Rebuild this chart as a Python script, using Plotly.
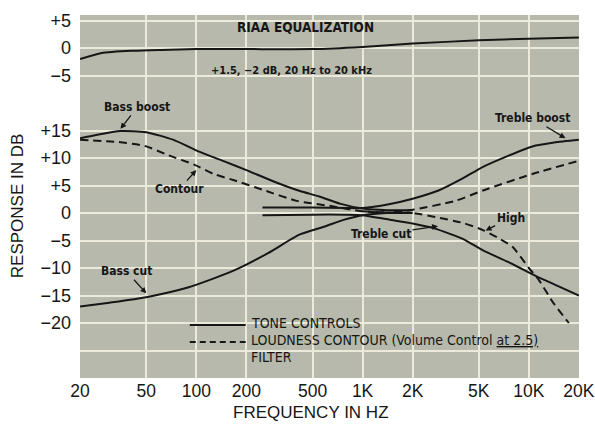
import math
import plotly.graph_objects as go

# ---------------- data ----------------
x_tick_vals = [20, 50, 100, 200, 500, 1000, 2000, 5000, 10000, 20000]
x_tick_text = ["20", "50", "100", "200", "500", "1K", "2K", "5K", "10K", "20K"]

# RIAA equalization (upper section, dB)
riaa_freq = [20, 27, 42, 61, 100, 200, 500, 1000, 2000, 5000, 10000, 20000]
riaa_db = [-2.0, -0.9, -0.5, -0.35, -0.2, -0.2, -0.2, 0.2, 0.8, 1.4, 1.7, 1.9]

# Tone controls
bass_boost_freq = [20, 25, 35, 50, 73, 105, 150, 200, 300, 420, 550, 730, 1000, 1400, 2000]
bass_boost_db = [13.6, 14.2, 14.9, 14.7, 13.3, 11.1, 9.3, 7.8, 5.6, 4.0, 3.0, 1.7, 0.8, 0.5, 0.5]

bass_cut_freq = [20, 30, 50, 90, 130, 170, 270, 420, 600, 760, 1000, 1400, 2000]
bass_cut_db = [-17.0, -16.3, -15.3, -13.5, -11.8, -10.4, -7.3, -3.9, -2.4, -1.3, -0.4, 0.0, 0.0]

treble_boost_freq = [250, 500, 800, 1000, 1440, 2000, 2860, 4000, 5300, 7500, 10500, 14200, 20000]
treble_boost_db = [1.0, 1.0, 0.9, 0.9, 1.6, 2.6, 4.1, 6.3, 8.4, 10.4, 12.1, 12.8, 13.3]

treble_cut_freq = [250, 500, 800, 1000, 1440, 2000, 2700, 4000, 5300, 7500, 10900, 15000, 20000]
treble_cut_db = [-0.4, -0.3, -0.3, -0.4, -1.2, -1.9, -2.8, -4.7, -6.8, -8.9, -11.4, -13.3, -15.0]

# Loudness contour (volume control at 2.5)
contour_freq = [20, 34, 49, 68, 97, 127, 167, 252, 402, 632, 1000, 1440, 2000, 3600, 5300, 10500, 20000]
contour_db = [13.3, 12.9, 12.2, 10.5, 8.8, 7.1, 6.0, 4.2, 2.2, 1.3, 0.3, 0.1, 0.6, 2.2, 4.1, 7.1, 9.5]

# High filter
filter_freq = [1000, 1440, 2000, 2800, 4000, 5300, 6500, 8000, 10000, 11500, 14000, 17400]
filter_db = [0.3, 0.1, 0.0, -0.8, -1.8, -3.1, -4.5, -6.2, -10.0, -12.2, -16.3, -20.0]

# y labels (lower section true dB; upper section drawn 30 dB higher)
RIAA_OFFSET = 30
y_tick_vals = [35, 30, 25, 15, 10, 5, 0, -5, -10, -15, -20, -25]
y_tick_text = ["+5", "0", "\u22125", "+15", "+10", "+5", "0", "\u22125", "\u221210", "\u221215", "\u221220", ""]

# ---------------- figure ----------------
INK = "#161616"
GRID = "#eceadb"
BG = "#b7b9ac"
SANS = "Liberation Sans, Arial, sans-serif"
NARROW = "DejaVu Sans Condensed, Liberation Sans Narrow, sans-serif"

fig = go.Figure()


def add_curve(freq, vals, dash, offset=0):
    fig.add_trace(go.Scatter(
        x=freq, y=[v + offset for v in vals], mode="lines",
        line=dict(color=INK, width=2, dash=dash, shape="spline", smoothing=0.6),
        showlegend=False, hoverinfo="skip"))


add_curve(riaa_freq, riaa_db, "solid", RIAA_OFFSET)
add_curve(bass_boost_freq, bass_boost_db, "solid")
add_curve(bass_cut_freq, bass_cut_db, "solid")
add_curve(treble_boost_freq, treble_boost_db, "solid")
add_curve(treble_cut_freq, treble_cut_db, "solid")
add_curve(contour_freq, contour_db, "8px,5px")
add_curve(filter_freq, filter_db, "8px,5px")

annotations = []


def label(text, fx, fy, ax, ay):
    annotations.append(dict(
        x=math.log10(fx), y=fy, xref="x", yref="y", text=text,
        showarrow=True, ax=ax, ay=ay, arrowhead=2, arrowsize=0.9,
        arrowwidth=1.3, arrowcolor=INK, standoff=0,
        font=dict(family=NARROW, size=12, color=INK)))


label("<b>Bass boost</b>", 35, 15.3, 17, -22)
label("<b>Contour</b>", 100, 7.8, -17, 19)
label("<b>Treble boost</b>", 16600, 13.6, -33, -20)
label("<b>High</b>", 5500, -3.2, 25, -13)
label("<b>Bass cut</b>", 50, -14.6, -20, -22)
label("<b>Treble cut</b>", 2840, -2.4, -57, 8)


def ptext(text, px, py, size, family=NARROW, xanchor="center", angle=0):
    annotations.append(dict(
        x=px, y=py, xref="paper", yref="paper", text=text, showarrow=False,
        xanchor=xanchor, yanchor="middle", textangle=angle,
        font=dict(family=family, size=size, color=INK)))


ptext("<b>RIAA EQUALIZATION</b>", 0.452, 0.967, 13.5)
ptext("<b>+1.5, \u22122 dB, 20 Hz to 20 kHz</b>", 0.424, 0.846, 11)
ptext("FREQUENCY IN HZ", 0.462, -0.096, 17, SANS)
ptext("RESPONSE IN DB", -0.125, 0.475, 17, SANS, angle=-90)

# legend
ptext("TONE CONTROLS", 0.338, 0.152, 14, xanchor="left")
ptext("LOUDNESS CONTOUR (Volume Control <span style='text-decoration:underline'>at 2.5)</span>",
      0.338, 0.105, 14, xanchor="left")
ptext("FILTER", 0.338, 0.058, 14, xanchor="left")

shapes = [
    dict(type="line", xref="paper", yref="paper", x0=0.220, x1=0.332, y0=0.146, y1=0.146,
         line=dict(color=INK, width=2)),
    dict(type="line", xref="paper", yref="paper", x0=0.220, x1=0.332, y0=0.099, y1=0.099,
         line=dict(color=INK, width=2, dash="6px,4px")),
]

fig.update_layout(
    width=595, height=424,
    margin=dict(l=80, r=16, t=15, b=46),
    paper_bgcolor="white", plot_bgcolor=BG,
    annotations=annotations, shapes=shapes,
    xaxis=dict(type="log", range=[math.log10(20) - 0.0005, math.log10(20000) + 0.0005],
               tickvals=x_tick_vals, ticktext=x_tick_text,
               showgrid=True, gridcolor=GRID, gridwidth=2,
               zeroline=False, showline=False, ticks="", automargin=False,
               ticklabeloverflow="allow",
               tickfont=dict(family=SANS, size=17.5, color=INK)),
    yaxis=dict(range=[-30, 36], tickvals=y_tick_vals, ticktext=y_tick_text,
               showgrid=True, gridcolor=GRID, gridwidth=2,
               zeroline=False, showline=False, ticks="", ticklabelstandoff=8,
               automargin=False,
               tickfont=dict(family=SANS, size=18, color=INK)),
)

fig.write_html("out.html", config={"displayModeBar": False},
               post_script="document.body.style.margin='0';document.body.style.padding='0';")
